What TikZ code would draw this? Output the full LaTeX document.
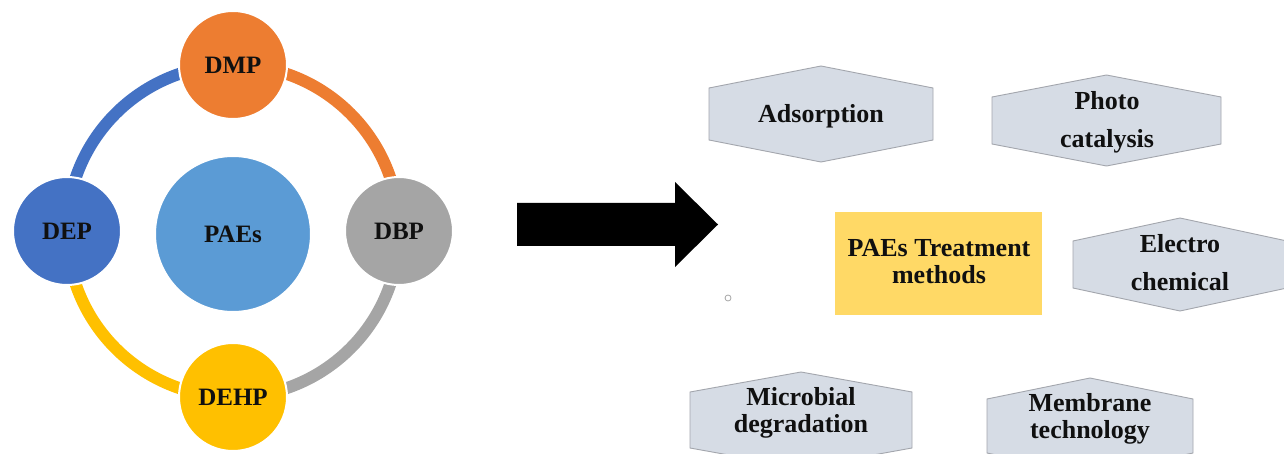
\documentclass[tikz,border=0pt]{standalone}
\usepackage{fontspec}
\setmainfont{Liberation Serif}
\definecolor{cOrange}{HTML}{ED7D31}
\definecolor{cBlue}{HTML}{4472C4}
\definecolor{cGray}{HTML}{A5A5A5}
\definecolor{cGold}{HTML}{FFC000}
\definecolor{cLight}{HTML}{5B9BD5}
\definecolor{hexfill}{HTML}{D6DCE5}
\definecolor{hexline}{HTML}{A3A6AD}
\definecolor{boxfill}{HTML}{FFD966}
\definecolor{txt}{HTML}{101010}
\newcommand\hexagonpath[5]{%
  \path[hexshape] ({#1-#3},{#2-#4+#5}) -- (#1,{#2-#4}) -- ({#1+#3},{#2-#4+#5})
    -- ({#1+#3},{#2+#4-#5}) -- (#1,{#2+#4}) -- ({#1-#3},{#2+#4-#5}) -- cycle;}
\begin{document}
\begin{tikzpicture}[x=1pt,y=-1pt,
  bubble/.style={circle, minimum size=108pt, inner sep=0pt, draw=white, line width=2pt,
    font=\fontsize{25}{29}\selectfont\bfseries, text=txt},
  ring/.style={line width=12pt},
  hexshape/.style={fill=hexfill, draw=hexline, line width=0.9pt},
  hexlbl/.style={font=\fontsize{26}{27}\selectfont\bfseries, text=txt, align=center, inner sep=0pt},
  widelbl/.style={font=\fontsize{26}{38}\selectfont\bfseries, text=txt, align=center, inner sep=0pt}]
\useasboundingbox (0,0) rectangle (1284,454);
\clip (0,0) rectangle (1284,454);
\fill[white] (0,0) rectangle (1284,454);

% ---- left: PAEs ring ----
\coordinate (cDMP) at (233,65);
\coordinate (cDEP) at (67,231);
\coordinate (cDBP) at (399,231);
\coordinate (cDEHP) at (233,397);
\draw[ring, cBlue] (cDEP) arc[start angle=180, end angle=270, radius=166];
\draw[ring, cOrange] (cDMP) arc[start angle=270, end angle=360, radius=166];
\draw[ring, cGray] (cDBP) arc[start angle=0, end angle=90, radius=166];
\draw[ring, cGold] (cDEHP) arc[start angle=90, end angle=180, radius=166];
\node[bubble, fill=cOrange] (DMP) at (cDMP) {DMP};
\node[bubble, fill=cBlue] (DEP) at (cDEP) {DEP};
\node[bubble, fill=cGray] (DBP) at (cDBP) {DBP};
\node[bubble, fill=cGold] (DEHP) at (cDEHP) {DEHP};
\node[bubble, fill=cLight, minimum size=156pt] (PAEs) at (233,234) {PAEs};

% ---- big arrow ----
\fill[black] (517,203) -- (675,203) -- (675,182) -- (718,224.5) -- (675,267)
  -- (675,246) -- (517,246) -- cycle;
\draw[gray!70, line width=0.8pt] (728,298) circle[radius=3];

% ---- right: treatment methods ----
\node[fill=boxfill, minimum width=207pt, minimum height=103pt, inner sep=0pt] (treat) at (938.5,263.5) {};
\node[hexlbl] (treattxt) at (939,261.7) {PAEs Treatment\\methods};

\hexagonpath{821}{114}{112}{48}{22}
\node[hexlbl] (ads) at (821,116) {Adsorption};

\hexagonpath{1106.5}{120.5}{114.5}{45.5}{22}
\node[widelbl] (photo) at (1107,122) {Photo\\catalysis};

\hexagonpath{1180}{264.5}{107}{46.5}{23}
\node[widelbl] (electro) at (1180,262.5) {Electro\\chemical};

\hexagonpath{801}{420}{111}{48}{20}
\node[hexlbl] (micro) at (801,413) {Microbial\\degradation};

\hexagonpath{1090}{426}{103}{48}{21}
\node[hexlbl] (memb) at (1090,419) {Membrane\\technology};
\end{tikzpicture}
\end{document}
